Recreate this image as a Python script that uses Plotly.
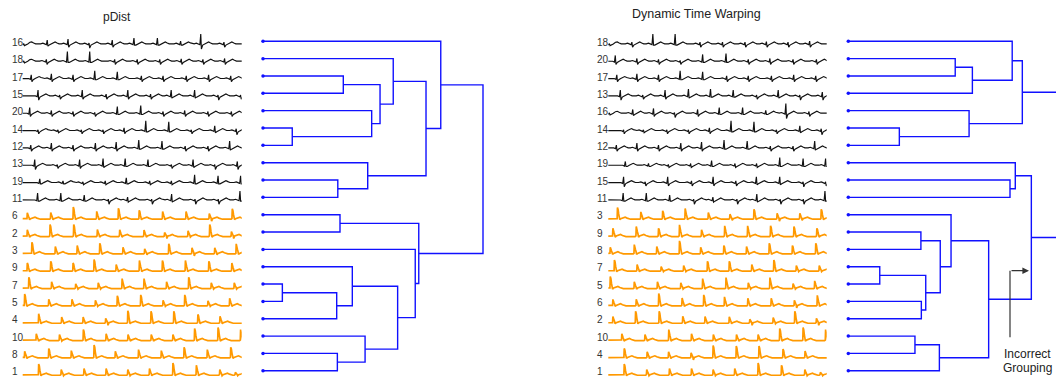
import plotly.graph_objects as go

W, H = 1056, 383

# ---------------- data ----------------
# beats of each ECG strip: (position 0-100 along strip, spike height px, dip depth px)
S16 = [(0.5, 0.5, 1.5), (11.2, 4, 2), (20.7, 5, 3), (30.3, 1, 4), (40.9, 4, 3), (50.8, 6, 1),
       (61.5, 6, 1), (72.1, 3, 1), (81.3, 10, 5), (91.9, 2, 3)]
S18 = [(0.5, 0.5, 1.5), (10.8, 2, 3), (20.4, 10, 1), (30.6, 10, 1), (42.0, 2, 3), (52.3, 2, 3),
       (62.6, 2, 3), (72.4, 2.5, 3), (82.3, 2, 3), (92.2, 3, 3)]
S17 = [(3.9, 4, 3), (13.1, 5, 3), (23.0, 4, 3), (32.9, 8, 1), (43.2, 7, 1), (54.2, 3, 3),
       (64.1, 3, 3), (74.7, 3, 3), (84.9, 4, 3), (95.0, 3, 3)]
S15 = [(7.0, 6, 4), (16.9, 1, 3), (27.2, 6, 3), (38.1, 2, 3), (48.0, 6, 3), (58.4, 2, 3),
       (67.8, 6, 2), (78.5, 6, 2), (89.2, 1, 4), (99.5, 1, 3)]
S20 = [(3.2, 6, 3), (13.1, 3, 3), (23.0, 2, 3), (32.9, 1, 3), (43.2, 7, 1), (53.9, 8, 1),
       (64.1, 2, 3), (74.0, 3, 3), (84.6, 2, 3), (95.3, 2, 3)]
S14 = [(7.0, 1, 3), (16.1, 1, 2), (26.8, 1, 3), (36.7, 1, 3), (46.3, 3, 3), (56.2, 10, 1),
       (66.7, 9, 1), (77.0, 1, 3), (87.7, 5, 2), (97.5, 2, 4)]
S12 = [(3.7, 3, 3), (13.1, 5, 3), (23.0, 3, 3), (33.2, 5, 3), (42.7, 6, 3), (53.0, 8, 1),
       (63.6, 7, 1), (74.2, 2, 3), (84.6, 2, 3), (94.5, 7, 2)]
S13 = [(5.5, 6, 4), (15.8, 1, 3), (26.0, 6, 3), (36.7, 7, 2), (46.8, 7, 1), (57.2, 6, 1),
       (67.9, 1, 3), (77.8, 6, 2), (87.7, 1, 4), (98.0, 4, 4)]
S19 = [(7.8, 4, 1), (18.4, 2, 1), (27.5, 1, 2), (37.7, 2, 2), (47.3, 5, 1), (58.0, 2, 2),
       (67.9, 2, 2), (78.5, 8, 1), (89.2, 7, 1), (99.5, 7, 1)]
S11 = [(6.8, 7, 1), (17.4, 7, 1), (28.1, 5, 1), (39.1, 1, 4), (47.9, 3, 2), (58.9, 1, 4),
       (68.0, 6, 2), (78.7, 1, 4), (89.3, 1, 4), (99.2, 9, 1)]
S6 = [(2.1, 6.5, 0.5), (12.8, 6.7, 0.5), (23.1, 12.3, 0.5), (33.8, 7.8, 0.5), (43.7, 11, 0.5),
      (53.2, 9, 0.5), (63.9, 7.7, 0.5), (74.6, 7.7, 0.5), (85.2, 5.7, 2), (95.7, 10.5, 0.5)]
S2 = [(2.1, 6.8, 0.5), (12.5, 12, 0.5), (23.3, 12, 0.5), (34.1, 7, 0.5), (44.3, 6.8, 0.5),
      (55.4, 6.5, 0.5), (64.8, 4, 2), (75.5, 5.8, 0.5), (85.4, 12, 0.5), (95.3, 5, 2)]
S3 = [(4.2, 11.7, 0.5), (14.9, 7.3, 0.5), (24.9, 8.3, 0.5), (35.2, 10.7, 0.5), (45.8, 6.7, 0.5),
      (55.7, 5, 1), (66.7, 10, 0.5), (77.3, 6, 2), (87.7, 6, 1), (97.5, 10, 0.5)]
S9 = [(2.1, 8.3, 0.5), (12.8, 10, 0.5), (23.0, 8.3, 0.5), (32.6, 11.7, 0.5), (42.7, 6.7, 0.5),
      (53.3, 10.7, 0.5), (63.8, 10.7, 0.5), (74.3, 10.7, 0.5), (85.0, 10, 0.5), (95.5, 8.3, 0.5)]
S7 = [(2.8, 11.3, 0.5), (13.2, 6.7, 0.5), (24.2, 4.7, 0.5), (34.5, 5.7, 0.5), (45.4, 10, 0.5),
      (55.4, 10, 0.5), (65.7, 6.7, 0.5), (75.8, 11.3, 0.5), (86.1, 5.7, 0.5), (96.6, 5.7, 0.5)]
S5 = [(0.9, 12, 0.5), (11.9, 6.7, 0.5), (22.5, 6.7, 0.5), (33.2, 5.7, 0.5), (43.2, 10, 0.5),
      (53.9, 11, 0.5), (64.1, 5.7, 0.5), (74.0, 11, 0.5), (84.6, 5, 0.5), (94.5, 7.7, 0.5)]
S4 = [(7.3, 9.5, 0.5), (17.8, 6.2, 0.5), (27.6, 6.2, 0.5), (37.9, 5, 2), (48.0, 12.5, 0.5),
      (58.6, 12, 0.5), (69.0, 12, 0.5), (80.0, 8.8, 0.5), (90.1, 7, 0.5)]
S10 = [(6.2, 6.7, 0.5), (16.8, 6, 0.5), (27.7, 11, 0.5), (38.1, 6.7, 0.5), (48.1, 6, 0.5),
       (58.7, 6, 0.5), (68.6, 6, 0.5), (78.5, 12, 0.5), (89.2, 13, 0.5), (99.5, 11, 0.5)]
S8 = [(0.9, 6.7, 0.5), (11.9, 9.3, 0.5), (22.2, 7.3, 0.5), (32.6, 13, 0.5), (42.3, 6.7, 0.5),
      (52.9, 8.3, 0.5), (63.3, 7.3, 0.5), (73.7, 10.7, 0.5), (84.3, 8.3, 0.5), (95.0, 10.7, 0.5)]
S1 = [(7.3, 11.3, 0.5), (17.6, 5.7, 0.5), (28.0, 6.7, 0.5), (38.1, 6.7, 0.5), (48.0, 5.7, 0.5),
      (57.9, 6.7, 0.5), (68.6, 12.3, 0.5), (79.3, 10, 0.5), (90.0, 5.7, 0.5), (97.1, 3, 0.5)]

BLACK_LABELS = [11, 12, 13, 14, 15, 16, 17, 18, 19, 20]
ORANGE_LABELS = [1, 2, 3, 4, 5, 6, 7, 8, 9, 10]

# dendrograms: leaf order (top to bottom) and merges (child a, child b, height)
LEFT_ORDER = [16, 18, 17, 15, 20, 14, 12, 13, 19, 11, 6, 2, 3, 9, 7, 5, 4, 10, 8, 1]
LEFT_MERGES = [(17, 15, 36.5), (14, 12, 13.3), (20, "m1", 49.4), ("m0", "m2", 53.2),
               (18, "m3", 59.2), (19, 11, 34.0), (13, "m5", 47.6), ("m4", "m6", 74.1),
               (16, "m7", 80.8), (6, 2, 35.0), (7, 5, 8.8), ("m10", 4, 33.5),
               (9, "m11", 40.6), (8, 1, 33.8), (10, "m13", 46.4), ("m12", "m14", 61.2),
               (3, "m15", 69.2), ("m9", "m16", 70.8), ("m8", "m17", 100.0)]
RIGHT_ORDER = [18, 20, 17, 13, 16, 14, 12, 19, 15, 11, 3, 9, 8, 7, 5, 6, 2, 10, 4, 1]
RIGHT_MERGES = [(20, 17, 48.6), ("m0", 13, 56.4), (18, "m1", 74.5), (14, 12, 23.2),
                (16, "m3", 54.9), ("m2", "m4", 79.1), (15, 11, 73.5), (19, "m6", 75.9),
                (9, 8, 33.0), (7, 5, 14.3), (6, 2, 33.2), ("m9", "m10", 35.2),
                ("m8", "m11", 41.8), (3, "m12", 46.7), (10, 4, 30.3), ("m14", 1, 41.4),
                ("m13", "m15", 63.8), ("m7", "m16", 83.2), ("m5", "m17", 100.0)]

TITLE_LEFT = "pDist"
TITLE_RIGHT = "Dynamic Time Warping"
NOTE_LINES = ["Incorrect", "Grouping"]

# ---------------- styling / layout constants ----------------
FONT = "Liberation Sans, Arial, sans-serif"
BLUE = "#1010ff"
BLACK = "#111111"
ORANGE = "#ff9900"
ROW_PX = 17.34
TOP_PX = 41.3
DEND_PX = 2.2

SERIES = {16: S16, 18: S18, 17: S17, 15: S15, 20: S20, 14: S14, 12: S12, 13: S13,
          19: S19, 11: S11, 6: S6, 2: S2, 3: S3, 9: S9, 7: S7, 5: S5, 4: S4,
          10: S10, 8: S8, 1: S1}


def black_beat(u, r, s):
    return [(u - 3.0, 0.3), (u - 2.0, 0.9), (u - 1.2, 0.2), (u - 0.4, -0.6), (u, r),
            (u + 0.3, -s), (u + 0.9, -1.0), (u + 1.8, 0.2), (u + 2.8, 1.8),
            (u + 3.6, 2.2), (u + 4.5, 1.2), (u + 5.4, 0.3)]


def orange_beat(u, r, s):
    return [(u - 0.5, 0), (u - 0.15, 0.6), (u, r), (u + 0.3, 0.82 * r), (u + 0.55, 0.45 * r),
            (u + 0.8, 0.25 * r), (u + 1.05, -s), (u + 1.5, 0.5), (u + 2.6, 1.2),
            (u + 3.5, 2.1), (u + 4.4, 1.1), (u + 5.3, 0.2), (u + 6.0, 0)]


def strip(label, row):
    black = label in BLACK_LABELS
    pts = [(-10, 0.3 if black else 0)]
    for (u, r, s) in SERIES[label]:
        pts += black_beat(u, r, s) if black else orange_beat(u, r, s)
    pts.append((110, 0.3 if black else 0))
    off = 2.8 if black else 4.5
    xs = [p[0] for p in pts]
    ys = [row + (off - p[1]) / ROW_PX for p in pts]
    return xs, ys, (BLACK if black else ORANGE), (1.15 if black else 1.7)


def dendro(order, merges):
    pos = {leaf: (0.0, float(i)) for i, leaf in enumerate(order)}
    xs, ys = [], []
    for k, (a, b, h) in enumerate(merges):
        ha, ya = pos[a]
        hb, yb = pos[b]
        xs += [ha, h, h, hb, None]
        ys += [ya, ya, yb, yb, None]
        pos["m%d" % k] = (h, (ya + yb) / 2)
    return xs, ys


fig = go.Figure()

panels = [("x", LEFT_ORDER, "x2", LEFT_MERGES), ("x3", RIGHT_ORDER, "x4", RIGHT_MERGES)]
for xs_axis, order, dx_axis, merges in panels:
    for i, lab in enumerate(order):
        xs, ys, col, wd = strip(lab, i)
        fig.add_trace(go.Scatter(x=xs, y=ys, mode="lines", xaxis=xs_axis, yaxis="y",
                                 line=dict(color=col, width=wd), hoverinfo="skip",
                                 showlegend=False))
    dxs, dys = dendro(order, merges)
    fig.add_trace(go.Scatter(x=dxs, y=dys, mode="lines", xaxis=dx_axis, yaxis="y",
                             line=dict(color=BLUE, width=1.4), hoverinfo="skip",
                             showlegend=False))
    fig.add_trace(go.Scatter(x=[0] * len(order), y=list(range(len(order))), mode="markers",
                             xaxis=dx_axis, yaxis="y", cliponaxis=False,
                             marker=dict(color=BLUE, size=3.5), hoverinfo="skip",
                             showlegend=False))

ann = []
for x0, order in [(9.5, LEFT_ORDER), (594.5, RIGHT_ORDER)]:
    for i, lab in enumerate(order):
        ann.append(dict(text=str(lab), xref="paper", yref="y", x=x0 / W, y=i + 0.06,
                        xanchor="left", yanchor="middle", showarrow=False,
                        font=dict(family=FONT, size=10, color="#333")))
ann.append(dict(text=TITLE_LEFT, xref="paper", yref="paper", x=117 / W, y=1 - 16.5 / H,
                xanchor="center", yanchor="middle", showarrow=False,
                font=dict(family=FONT, size=12, color="#222")))
ann.append(dict(text=TITLE_RIGHT, xref="paper", yref="paper", x=696 / W, y=1 - 13.5 / H,
                xanchor="center", yanchor="middle", showarrow=False,
                font=dict(family=FONT, size=12.5, color="#222")))
for k, t in enumerate(NOTE_LINES):
    ann.append(dict(text=t, xref="paper", yref="paper", x=1027.5 / W, y=1 - (354 + 13.7 * k) / H,
                    xanchor="center", yanchor="middle", showarrow=False,
                    font=dict(family=FONT, size=12, color="#222")))
ann.append(dict(text="", xref="paper", yref="paper", x=1029 / W, y=1 - 270.7 / H,
                ax=-19, ay=0, showarrow=True, arrowhead=2, arrowsize=1.1, arrowwidth=1.2,
                arrowcolor="#333"))

shapes = [dict(type="line", xref="paper", yref="paper", x0=1010 / W, x1=1010 / W,
               y0=1 - 337.3 / H, y1=1 - 270.7 / H, line=dict(color="#333", width=1.2))]

ax_common = dict(visible=False, showgrid=False, zeroline=False, fixedrange=True)
fig.update_layout(
    width=W, height=H, margin=dict(l=0, r=0, t=0, b=0),
    paper_bgcolor="white", plot_bgcolor="rgba(0,0,0,0)",
    xaxis=dict(domain=[22.7 / W, 241.7 / W], range=[0, 100], anchor="y", **ax_common),
    xaxis2=dict(domain=[(263 - 3 * DEND_PX) / W, (263 + 110 * DEND_PX) / W], range=[-3, 110],
                anchor="y", **ax_common),
    xaxis3=dict(domain=[608.3 / W, 826.7 / W], range=[0, 100], anchor="y", **ax_common),
    xaxis4=dict(domain=[(848.3 - 3 * DEND_PX) / W, 1.0], range=[-3, (W - 848.3) / DEND_PX],
                anchor="y", **ax_common),
    yaxis=dict(domain=[0, 1], range=[(H - TOP_PX) / ROW_PX, -TOP_PX / ROW_PX], **ax_common),
    annotations=ann, shapes=shapes,
)

fig.write_html(
    "out.html",
    config={"displayModeBar": False},
    post_script="document.body.style.margin='0px';document.body.style.overflow='hidden';",
)
